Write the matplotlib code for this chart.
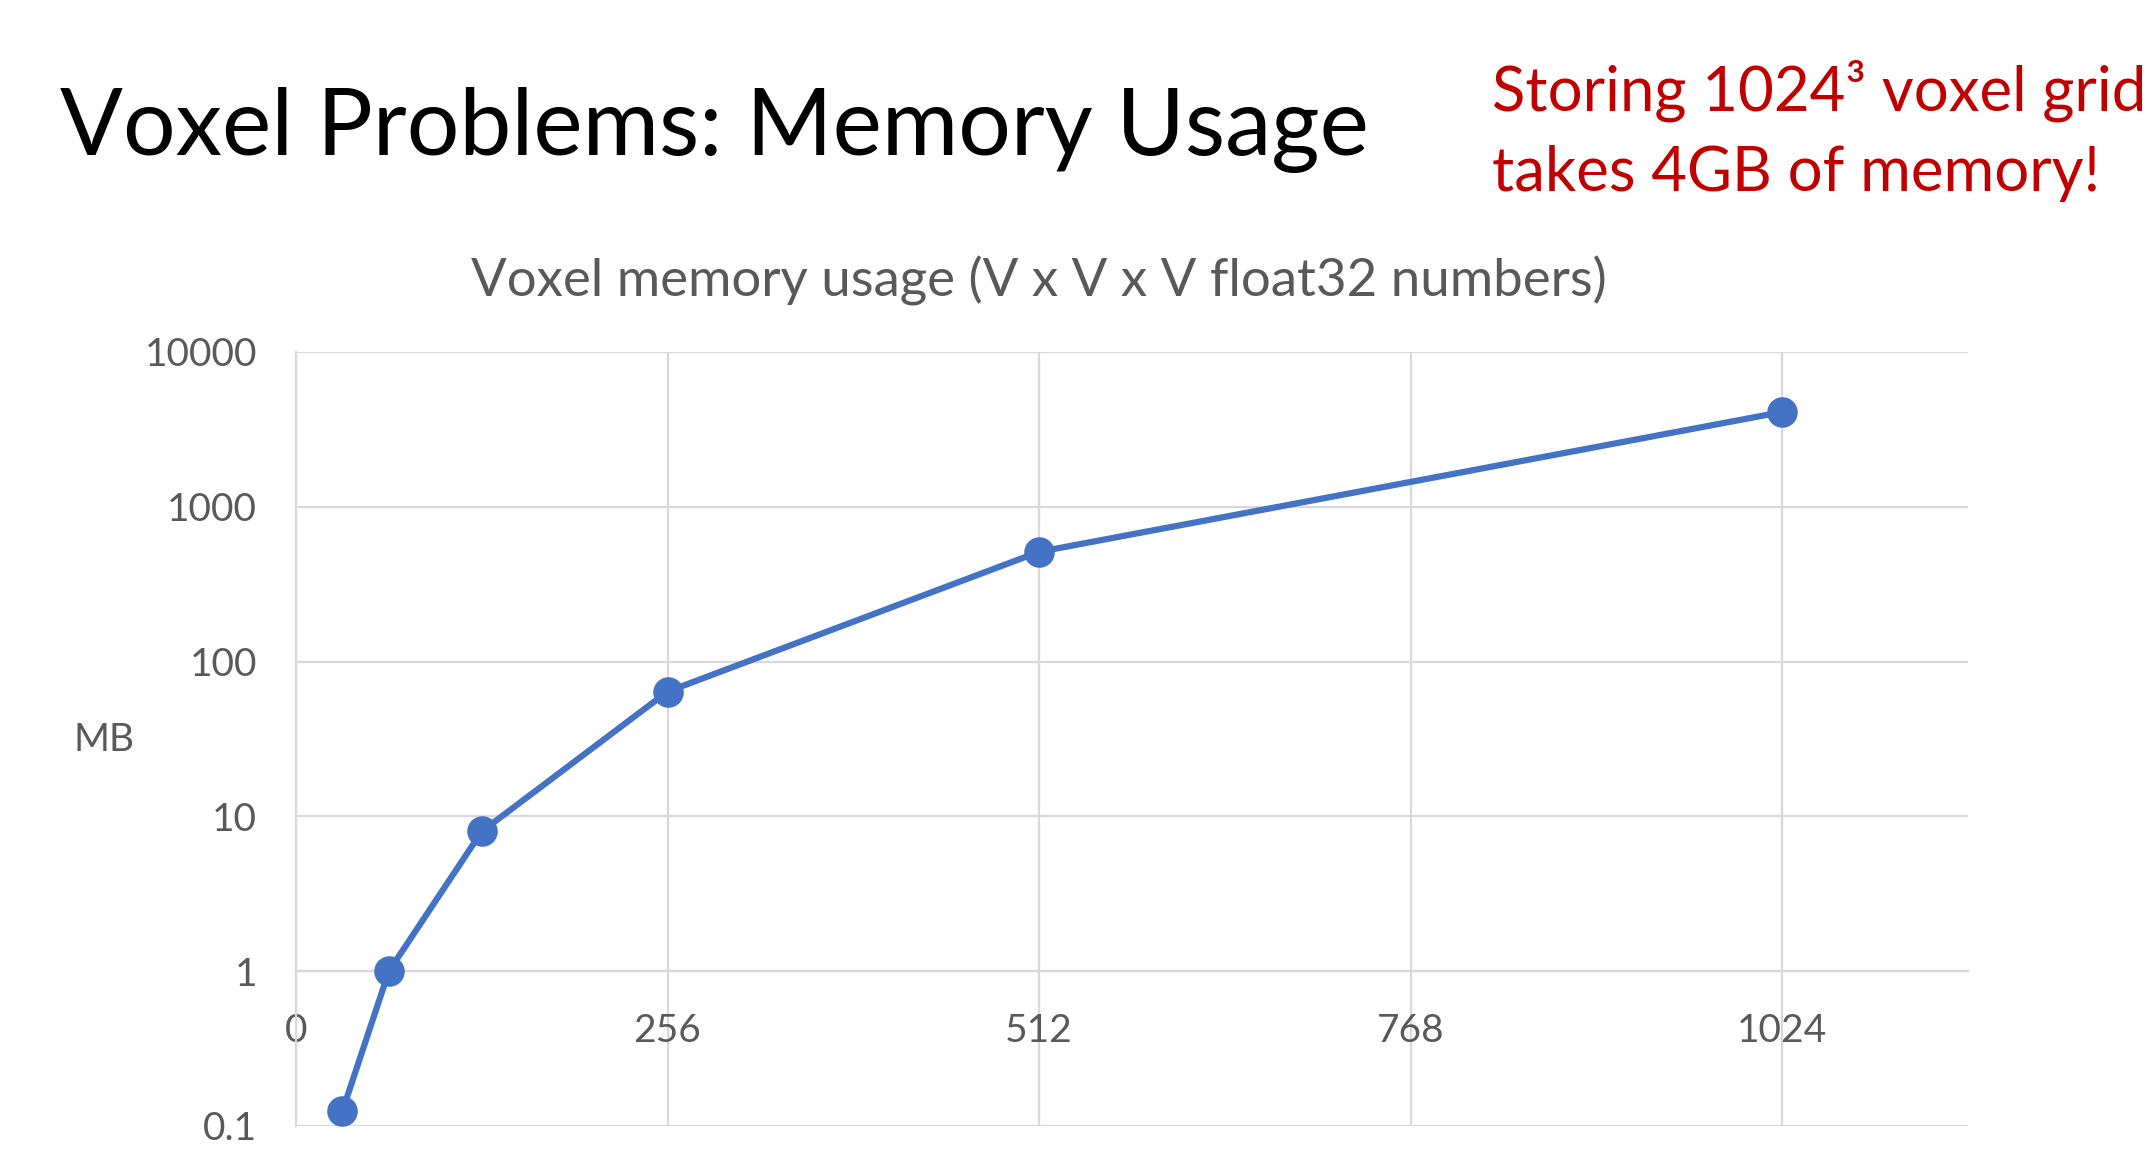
import numpy as np
import matplotlib
matplotlib.use("Agg")
import matplotlib.pyplot as plt
from matplotlib.ticker import FixedLocator, FixedFormatter

# voxel grid side length V and memory (MB) for V x V x V float32
voxel_sizes = [32, 64, 128, 256, 512, 1024]
memory_mb = [0.125, 1, 8, 64, 512, 4096]

x_ticks = [0, 256, 512, 768, 1024]
y_ticks = [0.1, 1, 10, 100, 1000, 10000]
y_tick_labels = ["0.1", "1", "10", "100", "1000", "10000"]

W, H = 2146, 1153
plt.rcParams['font.family'] = ['Lato', 'DejaVu Sans']

fig = plt.figure(figsize=(W / 100, H / 100), dpi=100)
ax = fig.add_axes([296 / W, 1 - 1126 / H, (1968 - 296) / W, (1126 - 352) / H])

line_color = "#4472C4"
grid_color = "#D9D9D9"
text_gray = "#595959"

ax.plot(voxel_sizes, memory_mb, color=line_color, lw=4.5, marker="o",
        markersize=22, markeredgewidth=0, zorder=3, clip_on=False)

ax.set_yscale("log")
ax.set_xlim(0, 1152)
ax.set_ylim(0.1, 10000)

ax.yaxis.set_major_locator(FixedLocator(y_ticks))
ax.yaxis.set_major_formatter(FixedFormatter(y_tick_labels))
ax.yaxis.set_minor_locator(FixedLocator([]))
ax.xaxis.set_major_locator(FixedLocator(x_ticks))

ax.grid(True, color=grid_color, lw=1.6, zorder=0)
ax.set_axisbelow(True)

for s in ["top", "right"]:
    ax.spines[s].set_visible(False)
ax.spines["left"].set_color(grid_color)
ax.spines["left"].set_linewidth(1.6)
# x axis crosses at y = 1
ax.spines["bottom"].set_position(("data", 1))
ax.spines["bottom"].set_color(grid_color)
ax.spines["bottom"].set_linewidth(1.6)

ax.tick_params(axis="both", length=0, labelsize=28, labelcolor=text_gray)
ax.tick_params(axis="y", pad=28)
ax.tick_params(axis="x", pad=30)

fig.text(104 / W, 1 - 740 / H, "MB", fontsize=28, color=text_gray,
         ha="center", va="center")

fig.text(1039 / W, 1 - 297 / H, "Voxel memory usage (V x V x V float32 numbers)",
         fontsize=38, color=text_gray, ha="center", va="baseline")

fig.text(60 / W, 1 - 155 / H, "Voxel Problems: Memory Usage",
         fontsize=67, color="black", ha="left", va="baseline")

fig.text(1492 / W, 1 - 110 / H, "Storing 1024³ voxel grid",
         fontsize=44.5, color="#C00000", ha="left", va="baseline")
fig.text(1492 / W, 1 - 191 / H, "takes 4GB of memory!",
         fontsize=44.5, color="#C00000", ha="left", va="baseline")

fig.savefig("out.png", dpi=100)
